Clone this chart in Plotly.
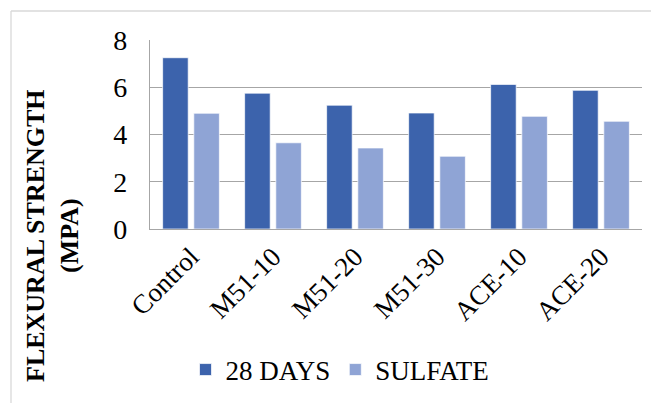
import plotly.graph_objects as go

categories = ["Control", "M51-10", "M51-20", "M51-30", "ACE-10", "ACE-20"]
days28 = [7.25, 5.75, 5.24, 4.91, 6.12, 5.87]
sulfate = [4.90, 3.65, 3.43, 3.08, 4.77, 4.56]
y_ticks = [0, 2, 4, 6, 8]

FONT = "Liberation Serif, Times New Roman, serif"
DARK = "#3C63AC"
LIGHT = "#8FA4D5"

fig = go.Figure()
fig.add_trace(go.Bar(name="28 DAYS", x=categories, y=days28,
                     marker=dict(color=DARK, line=dict(color="rgba(255,255,255,0.7)", width=1))))
fig.add_trace(go.Bar(name="SULFATE", x=categories, y=sulfate,
                     marker=dict(color=LIGHT, line=dict(color="rgba(255,255,255,0.7)", width=1))))

# the page body adds an 8px offset; work in screen pixels and subtract it
OFF = 8
W, H = 659 - OFF, 403 - OFF
L, T = 150 - OFF, 40 - OFF
PR, PB = 642 - OFF, 229 - OFF
R, B = W - PR, H - PB
pw = PR - L
ph = PB - T

def px_x(p):
    return (p - OFF - L) / pw

def px_y(p):
    return (PB - (p - OFF)) / ph

fig.update_layout(
    width=W, height=H,
    margin=dict(l=L, r=R, t=T, b=B, autoexpand=False),
    paper_bgcolor="white", plot_bgcolor="white",
    font=dict(family=FONT, size=27, color="black"),
    barmode="group", bargap=0.24, bargroupgap=0.18,
    showlegend=True,
    legend=dict(orientation="h", x=px_x(340), y=px_y(370), xanchor="center", yanchor="middle",
                font=dict(family=FONT, size=27, color="black"), itemwidth=30, traceorder="normal"),
    xaxis=dict(tickangle=-45, showline=True, linecolor="#A6A6A6", linewidth=1.3, automargin=False,
               tickfont=dict(family=FONT, size=27, color="black"), showgrid=False, ticks=""),
    yaxis=dict(range=[0, 8], tickvals=y_ticks, showgrid=True, gridcolor="#A6A6A6", gridwidth=1.3,
               showline=True, linecolor="#A6A6A6", linewidth=1.3, zeroline=False, automargin=False,
               tickfont=dict(family=FONT, size=28, color="black"), ticklabelstandoff=16),
    annotations=[dict(text="<b>FLEXURAL STRENGTH<br>(MPA)</b>", textangle=-90,
                      xref="paper", yref="paper", x=px_x(52), y=px_y(236),
                      xanchor="center", yanchor="middle", showarrow=False,
                      font=dict(family=FONT, size=26, color="black"))],
    shapes=[dict(type="line", xref="paper", yref="paper", x0=px_x(11), x1=px_x(11),
                 y0=px_y(11), y1=px_y(420), line=dict(color="#D9D9D9", width=1.3)),
            dict(type="line", xref="paper", yref="paper", x0=px_x(11), x1=px_x(680),
                 y0=px_y(11), y1=px_y(11), line=dict(color="#D9D9D9", width=1.3))],
)

fig.write_html("out.html")
